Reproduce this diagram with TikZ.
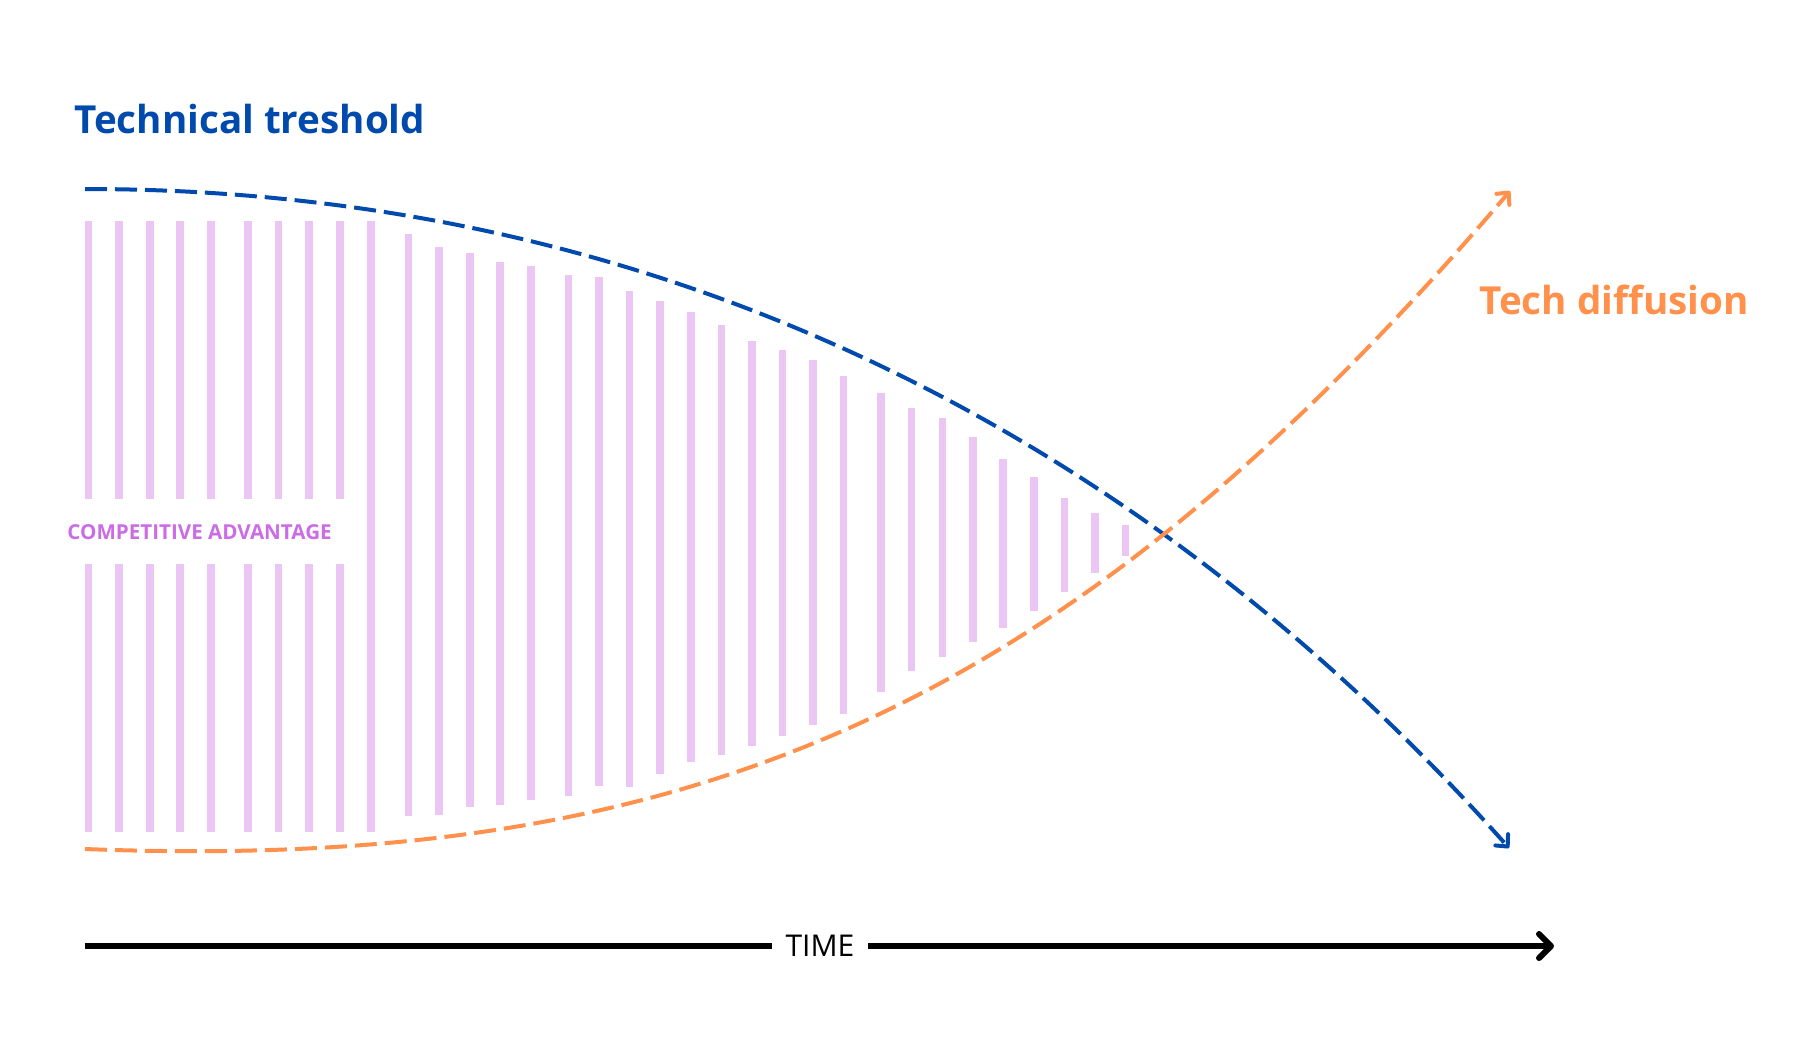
\documentclass[tikz,border=0pt]{standalone}
\usepackage{fontspec}
\setmainfont{Open Sans}
\usetikzlibrary{arrows.meta}
\definecolor{tblue}{HTML}{004AAD}
\definecolor{torange}{HTML}{FF914D}
\definecolor{tbar}{RGB}{235,198,245}
\definecolor{tlabel}{HTML}{CB6CE6}
\begin{document}
\begin{tikzpicture}[x=0.5pt,y=-0.5pt,
  bar/.style={line width=3.75pt, draw=tbar},
  curveline/.style={line width=2pt, dash pattern=on 11pt off 4pt,
    -{Straight Barb[length=4.5pt,width=8.5pt,line cap=round,line join=round]}},
  axisline/.style={line width=3pt, black},
  bigtitle/.style={anchor=base west, inner sep=0pt, font=\bfseries\fontsize{19.3}{23}\selectfont},
  smalllabel/.style={anchor=base west, inner sep=0pt, text=tlabel, font=\bfseries\fontsize{10.3}{12}\selectfont},
  timelabel/.style={inner xsep=6.5pt, inner ysep=0pt, font=\fontsize{15}{18}\selectfont}
]
\useasboundingbox (0,0) rectangle (1798,1040);

% bars split around the label
\foreach \x in {88.7,119,149.8,180.2,210.8,248.2,278.7,309.1,340}{
  \draw[bar] (\x,221) -- (\x,499);
  \draw[bar] (\x,564) -- (\x,832);
}
% full bars
\foreach \x/\t/\b in {370.9/221/832, 408.7/234/816, 439.1/247/814.7, 469.8/253/807.3,
  500.2/262/804.7, 530.9/266/800, 568.6/275/795.7, 598.9/277/785.5, 629.6/291/786.7,
  660.2/301/773.7, 690.9/311.7/761.7, 721.25/325/754.7, 751.8/340.7/745.7,
  782.3/349.7/735.7, 813/359.7/724.7, 843.4/375.7/713.7, 881/392.7/691.7,
  911.6/408/671.3, 942.3/418.3/657, 972.9/437/642, 1003.2/459/627.7,
  1033.75/477/611.3, 1064.5/498.3/592, 1095/513/572.7, 1125.5/525/556}{
  \draw[bar] (\x,\t) -- (\x,\b);
}

% curves
\coordinate (bs) at (85,189);
\coordinate (be) at (1509,848);
\coordinate (os) at (85,849);
\coordinate (oe) at (1510,191);
\draw[curveline, tblue] (bs) .. controls (785,189) and (1243,549) .. (be);
\draw[curveline, torange] (os) .. controls (702,873) and (1073,702) .. (oe);

% labels
\node[bigtitle, text=tblue] (ttl) at (74,133) {Technical treshold};
\node[bigtitle, text=torange] (diff) at (1479,314) {Tech diffusion};
\node[smalllabel] (ca) at (67,539) {COMPETITIVE ADVANTAGE};

% time axis
\coordinate (axs) at (85,946);
\coordinate (axe) at (1554,946);
\node[timelabel] (time) at (820,946) {TIME};
\draw[axisline] (axs) -- (time.west);
\draw[axisline, -{Straight Barb[length=6pt,width=12pt,line cap=round,line join=round]}] (time.east) -- (axe);
\end{tikzpicture}
\end{document}
